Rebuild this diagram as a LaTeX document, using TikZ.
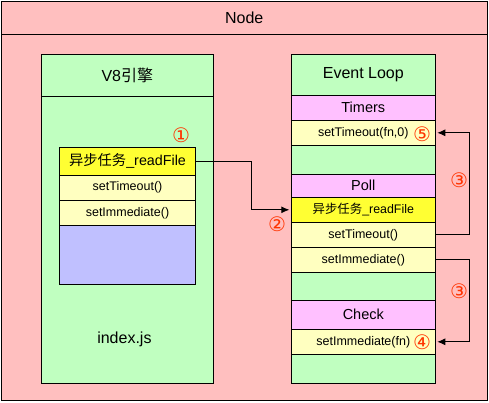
\documentclass[tikz,border=0pt]{standalone}
\usepackage{fontspec}
\setmainfont{Liberation Sans}
\newfontfamily\cjk{Noto Sans CJK SC}
\newfontfamily\numfont{DejaVu Sans}
\usetikzlibrary{arrows.meta}
\definecolor{nodepink}{RGB}{255,191,191}
\definecolor{boxgreen}{RGB}{192,255,192}
\definecolor{taskyellow}{RGB}{255,255,51}
\definecolor{calllight}{RGB}{255,255,192}
\definecolor{stackblue}{RGB}{192,192,255}
\definecolor{phasepink}{RGB}{255,192,255}
\definecolor{numred}{RGB}{255,51,0}
\begin{document}
\begin{tikzpicture}[
        x=1pt, y=-1pt,
        line width=0.9pt,
        font=\fontsize{12.5}{14}\selectfont
    ]
    \tikzset{
        mybox/.style = {rectangle, draw=black, inner sep=0pt, align=center},
        bigtext/.style = {font=\fontsize{16}{18}\selectfont},
        midtext/.style = {font=\fontsize{14.5}{16}\selectfont},
        lcell/.style = {mybox, minimum width=136.4pt},
        rcell/.style = {mybox, minimum width=144pt, minimum height=25pt},
        mynum/.style = {inner sep=0pt, text=numred, font=\numfont\fontsize{20}{20}\selectfont},
        myarrow/.style = {-{Latex[length=8pt,width=7pt]}, shorten >=1.5pt},
    }
    \useasboundingbox (0,0) rectangle (489,402);
    %
    \node[mybox, fill=nodepink, minimum width=486.5pt, minimum height=33pt, bigtext] at (244.25,17.5) (title) {Node};
    \node[mybox, fill=nodepink, minimum width=486.5pt, minimum height=366.5pt] at (244.25,217.25) (body) {};
    %
    \node[mybox, fill=boxgreen, minimum width=172pt, minimum height=42pt, bigtext] at (127.3,75.3) (v8) {V8{\cjk 引擎}};
    \node[mybox, fill=boxgreen, minimum width=172pt, minimum height=287pt] at (127.3,239.8) (v8body) {};
    \node[bigtext] at (124.4,339) (index) {index.js};
    \node[lcell, fill=taskyellow, minimum height=27.7pt, font=\fontsize{14.3}{16}\selectfont] at (127.5,161.2) (lrf) {{\cjk 异步任务}\_readFile};
    \node[lcell, fill=calllight, minimum height=25.3pt] at (127.5,187.7) (lst) {setTimeout()};
    \node[lcell, fill=calllight, minimum height=25pt] at (127.5,212.8) (lsi) {setImmediate()};
    \node[lcell, fill=stackblue, minimum height=58.7pt] at (127.5,254.7) (queue) {};
    %
    \node[mybox, fill=boxgreen, minimum width=144pt, minimum height=41pt, bigtext] at (363.3,74.8) (loop) {Event Loop};
    \node[rcell, fill=phasepink, midtext] at (363.3,107.8) (timers) {Timers};
    \node[rcell, fill=calllight] at (363.3,132.8) (tfn) {setTimeout(fn,0)};
    \node[rcell, fill=boxgreen, minimum height=29pt] at (363.3,159.8) (gap1) {};
    \node[rcell, fill=phasepink, minimum height=23pt, midtext] at (363.3,185.8) (poll) {Poll};
    \node[rcell, fill=taskyellow, font=\fontsize{12.4}{14}\selectfont] at (363.3,209.8) (rrf) {{\cjk 异步任务}\_readFile};
    \node[rcell, fill=calllight] at (363.3,234.8) (rst) {setTimeout()};
    \node[rcell, fill=calllight] at (363.3,259.8) (rsi) {setImmediate()};
    \node[rcell, fill=boxgreen, minimum height=28pt] at (363.3,286.3) (gap2) {};
    \node[rcell, fill=phasepink, minimum height=29pt, midtext] at (363.3,314.8) (check) {Check};
    \node[rcell, fill=calllight] at (363.3,341.8) (sifn) {setImmediate(fn)};
    \node[rcell, fill=boxgreen, minimum height=29pt] at (363.3,368.8) (gap3) {};
    %
    \node[mynum] at (181,135) (n1) {①};
    \node[mynum] at (277,224) (n2) {②};
    \node[mynum] at (459,180) (n3a) {③};
    \node[mynum] at (459,291) (n3b) {③};
    \node[mynum] at (422,342) (n4) {④};
    \node[mynum] at (422,134) (n5) {⑤};
    %
    \draw[myarrow] (lrf.east) -- ++(55.6,0) |- (rrf.west);
    \draw[myarrow] (rst.east) -- ++(33.7,0) |- (tfn.east);
    \draw[myarrow] (rsi.east) -- ++(33.7,0) |- (sifn.east);
\end{tikzpicture}
\end{document}
